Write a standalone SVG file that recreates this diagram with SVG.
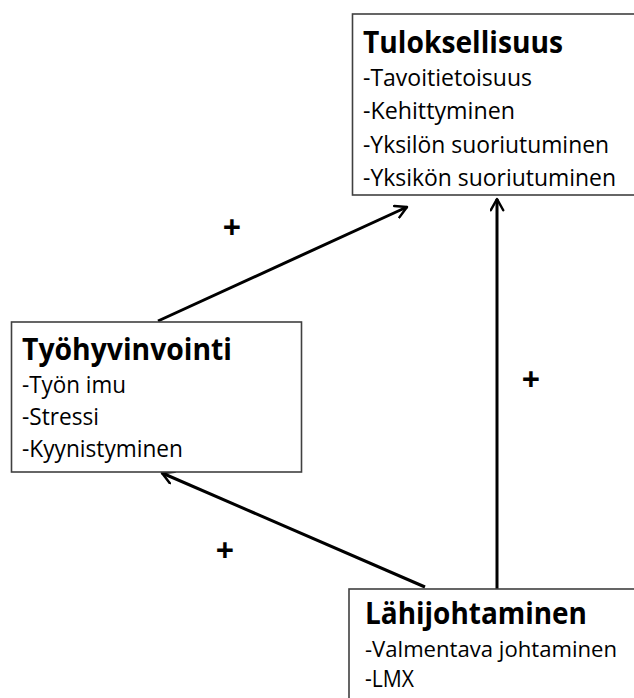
<svg xmlns="http://www.w3.org/2000/svg" width="634" height="698" viewBox="0 0 634 698">
<defs>
<marker id="ah" viewBox="0 0 12 12" refX="10" refY="6" markerWidth="5" markerHeight="5" orient="auto" markerUnits="strokeWidth">
<polyline points="1,1 10,6 1,11" fill="none" stroke="#000" stroke-width="2" stroke-linecap="round" stroke-linejoin="round"/>
</marker>
</defs>
<style>
.box{fill:#fff;stroke:#404040;stroke-width:1.6}
.t{font-family:"Open Sans","Noto Sans",sans-serif;font-weight:bold;font-size:31px;fill:#000}
.i{font-family:"Open Sans","Noto Sans",sans-serif;font-size:23.5px;fill:#000}
.p{font-family:"Open Sans","Noto Sans",sans-serif;font-weight:bold;font-size:32px;fill:#000;text-anchor:middle}
.c{stroke:#000;stroke-width:3;fill:none;marker-end:url(#ah)}
</style>
<rect width="634" height="698" fill="#fff"/>
<g id="connectors">
<line class="c" x1="158" y1="321" x2="407" y2="207"/>
<line class="c" x1="425" y1="587" x2="162" y2="473"/>
<line class="c" x1="497" y1="589" x2="497" y2="199"/>
<text class="p" x="232" y="239">+</text>
<text class="p" x="531" y="391">+</text>
<text class="p" x="225" y="562">+</text>
</g>
<g id="tuloksellisuus">
<rect class="box" x="352.5" y="14" width="290" height="181"/>
<text class="t" x="363" y="53" textLength="200" lengthAdjust="spacingAndGlyphs">Tuloksellisuus</text>
<text class="i" x="363" y="86" textLength="169" lengthAdjust="spacingAndGlyphs">-Tavoitietoisuus</text>
<text class="i" x="363" y="119" textLength="152" lengthAdjust="spacingAndGlyphs">-Kehittyminen</text>
<text class="i" x="363" y="153" textLength="246" lengthAdjust="spacingAndGlyphs">-Yksilön suoriutuminen</text>
<text class="i" x="363" y="186" textLength="253" lengthAdjust="spacingAndGlyphs">-Yksikön suoriutuminen</text>
</g>
<g id="tyohyvinvointi">
<rect class="box" x="11.5" y="322" width="290" height="150"/>
<text class="t" x="22" y="360" textLength="210" lengthAdjust="spacingAndGlyphs">Työhyvinvointi</text>
<text class="i" x="22" y="393" textLength="104" lengthAdjust="spacingAndGlyphs">-Työn imu</text>
<text class="i" x="22" y="425" textLength="77" lengthAdjust="spacingAndGlyphs">-Stressi</text>
<text class="i" x="22" y="457" textLength="161" lengthAdjust="spacingAndGlyphs">-Kyynistyminen</text>
</g>
<g id="lahijohtaminen">
<rect class="box" x="349" y="589" width="300" height="120"/>
<text class="t" x="365" y="624" style="font-size:29.5px" textLength="222" lengthAdjust="spacingAndGlyphs">Lähijohtaminen</text>
<text class="i" x="365" y="657" style="font-size:22.5px" textLength="252" lengthAdjust="spacingAndGlyphs">-Valmentava johtaminen</text>
<text class="i" x="365" y="687" textLength="49" lengthAdjust="spacingAndGlyphs">-LMX</text>
</g>
</svg>
